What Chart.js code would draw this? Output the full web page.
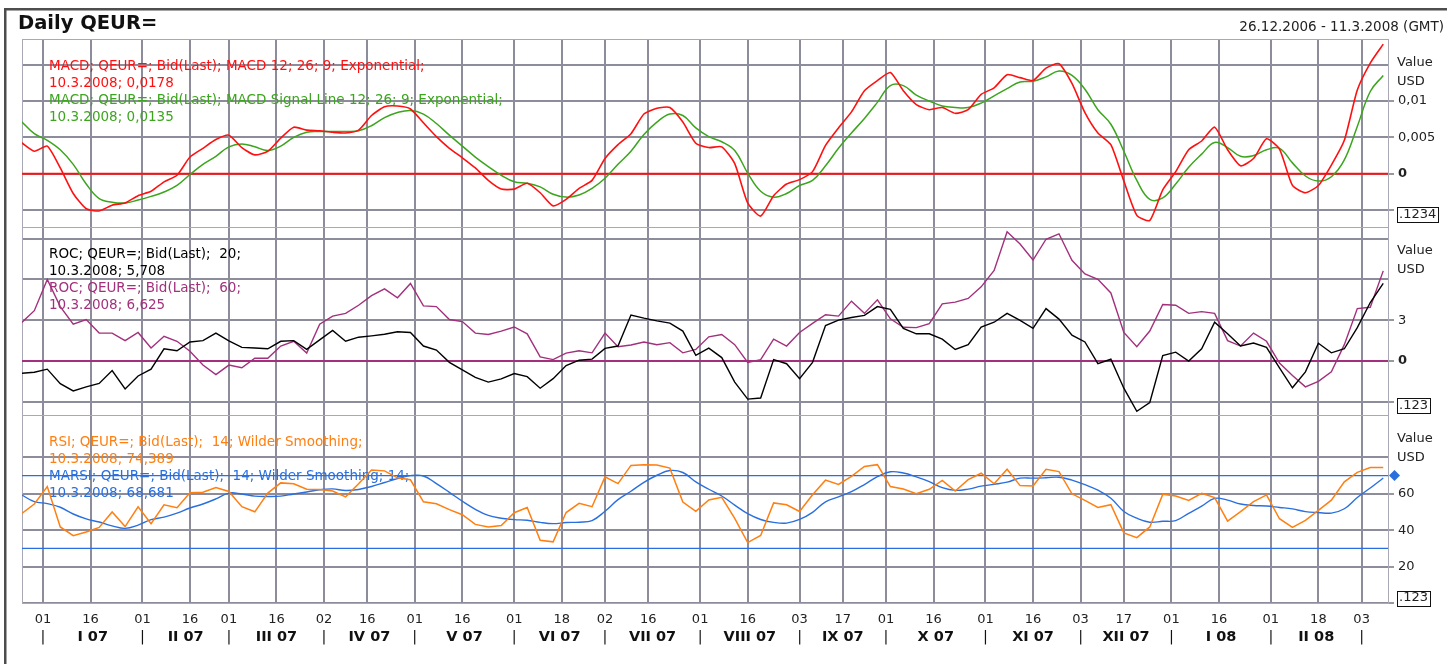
<!DOCTYPE html>
<html>
<head>
<meta charset="utf-8">
<title>Daily QEUR=</title>
<script src="https://cdn.jsdelivr.net/npm/chart.js@4.4.1/dist/chart.umd.min.js"></script>
<style>
  html, body { margin: 0; padding: 0; background: #fff; }
  #wrap { position: relative; width: 1447px; height: 664px; }
  canvas { display: block; }
</style>
</head>
<body>
<div id="wrap"><canvas id="qeurChart" width="1447" height="664"></canvas></div>
<script>
// Daily QEUR= : MACD, ROC y RSI en tres paneles con un eje X común
// Un valor cada 3 días hábiles, contando desde el 26.12.2006 (índice 0)
const firstDay = -1;
const step = 3;

const macd = [0.0043, 0.0031, 0.0038, 0.0008, -0.0027, -0.0048, -0.0051, -0.0043, -0.0040, -0.0030,
  -0.0024, -0.0011, -0.0002, 0.0023, 0.0035, 0.0047, 0.0053, 0.0036, 0.0026, 0.0031,
  0.0049, 0.0064, 0.0060, 0.0059, 0.0057, 0.0056, 0.0060, 0.0080, 0.0092, 0.0093,
  0.0089, 0.0070, 0.0051, 0.0035, 0.0022, 0.0008, -0.0009, -0.0021, -0.0021, -0.0013,
  -0.0026, -0.0044, -0.0035, -0.0020, -0.0009, 0.0021, 0.0040, 0.0055, 0.0082, 0.0090,
  0.0091, 0.0071, 0.0042, 0.0036, 0.0037, 0.0014, -0.0040, -0.0058, -0.0030, -0.0014,
  -0.0008, 0.0003, 0.0039, 0.0063, 0.0085, 0.0114, 0.0128, 0.0139, 0.0114, 0.0095,
  0.0088, 0.0091, 0.0083, 0.0088, 0.0109, 0.0118, 0.0136, 0.0132, 0.0128, 0.0145,
  0.0151, 0.0124, 0.0084, 0.0056, 0.0040, -0.0010, -0.0057, -0.0064, -0.0022, 0.0003,
  0.0033, 0.0045, 0.0064, 0.0033, 0.0011, 0.0021, 0.0048, 0.0034, -0.0016, -0.0026,
  -0.0016, 0.0012, 0.0046, 0.0115, 0.0152, 0.0178];

const macdSignal = [0.0072, 0.0055, 0.0046, 0.0033, 0.0013, -0.0014, -0.0034, -0.0039, -0.0040, -0.0036,
  -0.0031, -0.0025, -0.0016, -0.0001, 0.0013, 0.0024, 0.0037, 0.0041, 0.0037, 0.0032,
  0.0038, 0.0050, 0.0057, 0.0058, 0.0058, 0.0058, 0.0059, 0.0066, 0.0077, 0.0084,
  0.0087, 0.0082, 0.0069, 0.0053, 0.0038, 0.0023, 0.0010, -0.0002, -0.0011, -0.0013,
  -0.0018, -0.0028, -0.0032, -0.0029, -0.0020, -0.0006, 0.0013, 0.0031, 0.0054, 0.0071,
  0.0082, 0.0080, 0.0063, 0.0051, 0.0044, 0.0032, 0.0001, -0.0024, -0.0032, -0.0027,
  -0.0016, -0.0009, 0.0011, 0.0035, 0.0056, 0.0076, 0.0098, 0.0121, 0.0121, 0.0108,
  0.0100, 0.0093, 0.0091, 0.0091, 0.0097, 0.0107, 0.0117, 0.0126, 0.0127, 0.0133,
  0.0141, 0.0135, 0.0116, 0.0088, 0.0068, 0.0031, -0.0009, -0.0035, -0.0033, -0.0014,
  0.0009, 0.0027, 0.0043, 0.0036, 0.0024, 0.0025, 0.0033, 0.0035, 0.0015, -0.0003,
  -0.0010, -0.0004, 0.0019, 0.0065, 0.0113, 0.0135];

const roc20 = [-0.9, -0.83, -0.6, -1.67, -2.2, -1.9, -1.65, -0.7, -2.05, -1.1,
  -0.6, 0.9, 0.75, 1.4, 1.5, 2.05, 1.48, 1.0, 0.95, 0.9,
  1.45, 1.5, 0.85, 1.55, 2.25, 1.45, 1.75, 1.85, 1.97, 2.15,
  2.1, 1.1, 0.8, -0.1, -0.65, -1.2, -1.55, -1.32, -0.92, -1.15,
  -2.0, -1.3, -0.34, 0.06, 0.14, 0.93, 1.1, 3.38, 3.15, 2.95,
  2.78, 2.2, 0.42, 0.95, 0.25, -1.55, -2.8, -2.72, 0.1, -0.2,
  -1.3, -0.1, 2.6, 3.0, 3.2, 3.35, 4.0, 3.8, 2.4, 2.0,
  2.0, 1.6, 0.85, 1.2, 2.5, 2.85, 3.5, 2.98, 2.4, 3.85,
  3.08, 1.9, 1.4, -0.2, 0.13, -2.0, -3.7, -3.05, 0.4, 0.65,
  0.0, 0.9, 2.85, 2.0, 1.1, 1.32, 1.0, -0.5, -1.97, -0.8,
  1.3, 0.6, 0.9, 2.45, 4.3, 5.708];

const roc60 = [2.8, 3.7, 6.0, 4.0, 2.7, 3.05, 2.05, 2.05, 1.5, 2.1,
  0.96, 1.82, 1.45, 0.72, -0.3, -1.0, -0.3, -0.5, 0.2, 0.2,
  1.1, 1.45, 0.58, 2.7, 3.3, 3.5, 4.1, 4.8, 5.3, 4.65,
  5.7, 4.05, 4.0, 3.05, 2.9, 2.05, 1.95, 2.2, 2.5, 2.0,
  0.3, 0.1, 0.58, 0.75, 0.6, 2.05, 1.05, 1.18, 1.4, 1.2,
  1.35, 0.6, 0.85, 1.78, 1.95, 1.2, -0.1, 0.1, 1.6, 1.1,
  2.1, 2.77, 3.4, 3.3, 4.4, 3.5, 4.5, 3.1, 2.48, 2.45,
  2.75, 4.2, 4.33, 4.6, 5.45, 6.65, 9.5, 8.6, 7.42, 8.95,
  9.35, 7.4, 6.4, 6.0, 5.0, 2.1, 1.05, 2.2, 4.15, 4.1,
  3.5, 3.63, 3.5, 1.5, 1.1, 2.05, 1.45, -0.15, -1.06, -1.9,
  -1.5, -0.8, 1.2, 3.85, 3.95, 6.625];

const rsi = [49, 54.4, 64, 41.8, 37, 39, 41.5, 50, 42, 52.8,
  43.6, 54, 52.4, 60.6, 60.9, 63.5, 61.3, 52.9, 50.1, 60.4,
  66, 65.5, 62.5, 62.4, 61.5, 58.3, 65.5, 73.1, 72.6, 68.8,
  67.7, 55.6, 54.5, 51.3, 48.5, 43.2, 41.7, 42.6, 49.6, 52.5,
  34.5, 33.6, 49.7, 54.8, 52.9, 69.3, 65.6, 75.6, 76, 75.8,
  74.1, 55.5, 50.4, 56.6, 58.1, 46.5, 33.2, 37.1, 55, 54,
  50.3, 59.5, 67.5, 65.2, 69.6, 75, 76, 64, 62.6, 60.1,
  62.5, 67.4, 61.5, 67.8, 71.3, 65.5, 73.5, 64.5, 64.3, 73.5,
  72.2, 60, 56.4, 52.5, 54, 38.5, 35.9, 41.8, 59.7, 58.8,
  56.4, 60.3, 57.9, 45, 50.2, 55.7, 59.4, 46.3, 41.5, 45.4,
  50.9, 56.5, 66.6, 71.8, 74.4, 74.389];

const marsi = [59.5, 55.7, 54.6, 52.6, 48.9, 46.2, 44.5, 42.4, 41, 42.8,
  45.8, 47.2, 49.4, 52.2, 54.4, 57.2, 60.4, 59.9, 58.7, 58.5,
  58.7, 59.9, 61, 62.2, 62.7, 61.8, 62.4, 64, 66.2, 68.3,
  70, 69.8, 65.6, 60.8, 55.9, 51.5, 48.1, 46.6, 45.8, 45.5,
  44.3, 43.6, 44.2, 44.4, 45.3, 50.4, 56.8, 61.4, 66.3, 70.2,
  72.8, 71.7, 66.6, 62.5, 58.8, 53.8, 49.1, 45.9, 44.3, 43.9,
  45.9, 49.8, 55.6, 58.3, 61.2, 65.1, 69.4, 72.1, 71.4, 69.3,
  66.7, 63.4, 61.9, 62.6, 64.2, 65.2, 66.4, 68.6, 68.6, 68.8,
  69.1, 67.5, 65, 62, 57.6, 50.3, 46.6, 44.4, 44.9, 45.3,
  49.3, 53.2, 57.5, 56.5, 54.4, 53.6, 53.3, 52.5, 51.7, 50.2,
  49.7, 49.4, 51.8, 58, 63.2, 68.681];

// Eje X: día hábil de cada marca y su etiqueta
const tickDays = [4, 15, 27, 38, 47, 58, 69, 79, 90, 101, 113, 124, 134, 144, 156,
  167, 179, 189, 199, 210, 222, 233, 244, 254, 265, 276, 288, 299, 309];
const tickLabels = ['01', '16', '01', '16', '01', '16', '02', '16', '01', '16', '01', '18', '02', '16', '01',
  '16', '03', '17', '01', '16', '01', '16', '03', '17', '01', '16', '01', '18', '03'];
const monthStarts = [4, 27, 47, 69, 90, 113, 134, 156, 179, 199, 222, 244, 265, 288, 309];
const monthLabels = ['I 07', 'II 07', 'III 07', 'IV 07', 'V 07', 'VI 07', 'VII 07', 'VIII 07',
  'IX 07', 'X 07', 'XI 07', 'XII 07', 'I 08', 'II 08'];

// Ejes Y (uno por panel)
const macdTicks = [-0.005, 0, 0.005, 0.01, 0.015];
const macdTickLabels = ['', '0', '0,005', '0,01', ''];
const rocTicks = [-3, 0, 3, 6, 9];
const rocTickLabels = ['', '0', '3', '', ''];
const rsiTicks = [0, 20, 40, 60, 80];
const rsiTickLabels = ['', '20', '40', '60', ''];
const rsiBands = [30, 70];

const xMin = -0.85, xMax = 315.1;
const font = '"DejaVu Sans", sans-serif';
const gridColor = '#8d8c9b';
const frameColor = '#a9a9b5';

const red = '#ff1010', green = '#3ca51e', purple = '#a2307c', orange = '#ff7f10', blue = '#2a6fdf';

Chart.defaults.font.family = font;

const toPoints = arr => arr.map((v, i) => ({ x: firstDay + i * step, y: v }));
const hLine = v => [{ x: xMin, y: v }, { x: xMax, y: v }];
const last = arr => arr[arr.length - 1];
const fmt = (v, d) => v.toFixed(d).replace('.', ',');

// Texto de leyenda de cada panel
const panelLegends = [
  { axis: 'y1', lines: [
    ['MACD; QEUR=; Bid(Last); MACD 12; 26; 9; Exponential;', red],
    ['10.3.2008; ' + fmt(last(macd), 4), red],
    ['MACD; QEUR=; Bid(Last); MACD Signal Line 12; 26; 9; Exponential;', green],
    ['10.3.2008; ' + fmt(last(macdSignal), 4), green]] },
  { axis: 'y2', lines: [
    ['ROC; QEUR=; Bid(Last);  20;', '#000'],
    ['10.3.2008; ' + fmt(last(roc20), 3), '#000'],
    ['ROC; QEUR=; Bid(Last);  60;', purple],
    ['10.3.2008; ' + fmt(last(roc60), 3), purple]] },
  { axis: 'y3', lines: [
    ['RSI; QEUR=; Bid(Last);  14; Wilder Smoothing;', orange],
    ['10.3.2008; ' + fmt(last(rsi), 3), orange],
    ['MARSI; QEUR=; Bid(Last);  14; Wilder Smoothing; 14;', blue],
    ['10.3.2008; ' + fmt(last(marsi), 3), blue]] }
];
const boxLabels = { y1: '.1234', y2: '.123', y3: '.123' };

const monthTicks = monthStarts.map(v => ({ value: v, label: '|' })).concat(
  monthLabels.map((l, k) => ({ value: (monthStarts[k] + monthStarts[k + 1]) / 2, label: l })));

function yAxis(ticksArr, labelsArr, min, max) {
  return {
    type: 'linear', position: 'right', stack: 'panels', stackWeight: 1,
    min: min, max: max, bounds: 'data',
    afterFit: s => { s.width = 59; },
    afterBuildTicks: s => { s.ticks = ticksArr.map(v => ({ value: v })); },
    grid: {
      color: gridColor, lineWidth: 2, drawTicks: true, tickLength: 6, tickWidth: 1,
      tickColor: ctx => (ctx.index === 0 || labelsArr[ctx.index]) ? '#333' : 'rgba(0,0,0,0)'
    },
    border: { display: false },
    ticks: {
      padding: 4, color: '#222', autoSkip: false,
      font: ctx => ({ family: font, size: 13, weight: (ctx.tick && ctx.tick.value === 0) ? 'bold' : 'normal' }),
      callback: (v, i) => labelsArr[i]
    }
  };
}

const decorPlugin = {
  id: 'decor',
  beforeDatasetsDraw(chart) {
    const { ctx, chartArea, scales } = chart;
    ctx.save();
    // marco claro de cada panel
    ctx.strokeStyle = frameColor;
    ctx.lineWidth = 1;
    ['y1', 'y2', 'y3'].forEach(id => {
      const s = scales[id];
      ctx.strokeRect(chartArea.left + 0.5, s.top + 0.5, chartArea.width, s.height);
    });
    // leyendas dentro de los paneles
    ctx.font = '13.5px ' + font;
    ctx.textBaseline = 'middle';
    ctx.textAlign = 'left';
    panelLegends.forEach(p => {
      const s = scales[p.axis];
      p.lines.forEach((ln, k) => {
        ctx.fillStyle = ln[1];
        ctx.fillText(ln[0], chartArea.left + 27, s.top + 27 + k * 17);
      });
    });
    ctx.restore();
  },
  afterDraw(chart) {
    const { ctx, chartArea, scales, width, height } = chart;
    ctx.save();
    // marco exterior
    ctx.fillStyle = '#4d4d4d';
    ctx.fillRect(4, 8, width - 4, 2.5);
    ctx.fillRect(4, 8, 2.5, height - 8);
    // cabecera
    ctx.fillStyle = '#111';
    ctx.textBaseline = 'middle';
    ctx.font = 'bold 19.5px ' + font;
    ctx.textAlign = 'left';
    ctx.fillText('Daily QEUR=', 18, 24);
    ctx.font = '13.5px ' + font;
    ctx.textAlign = 'right';
    ctx.fillStyle = '#222';
    ctx.fillText('26.12.2006 - 11.3.2008 (GMT)', width - 3, 27);
    // textos del eje derecho
    ctx.textAlign = 'left';
    ctx.font = '13px ' + font;
    ['y1', 'y2', 'y3'].forEach(id => {
      const s = scales[id];
      const xl = chartArea.right + 9;
      ctx.fillStyle = '#222';
      ctx.fillText('Value', xl, s.top + 24);
      ctx.fillText('USD', xl, s.top + 43);
      // recuadro del último valor
      const ty = s.getPixelForValue(s.ticks[0].value);
      const cy = Math.min(ty + 4, s.bottom - 5);
      const txt = boxLabels[id];
      const w = ctx.measureText(txt).width + 4;
      ctx.strokeStyle = '#111';
      ctx.lineWidth = 1;
      ctx.strokeRect(Math.round(xl) + 0.5, Math.round(cy - 7.5) + 0.5, Math.round(w), 15);
      ctx.fillText(txt, xl + 2, cy);
    });
    // rombo del nivel 70 del RSI
    const yd = scales.y3.getPixelForValue(rsiBands[1]);
    const xd = chartArea.right + 6.5;
    ctx.fillStyle = blue;
    ctx.beginPath();
    ctx.moveTo(xd, yd - 5.5);
    ctx.lineTo(xd + 5.5, yd);
    ctx.lineTo(xd, yd + 5.5);
    ctx.lineTo(xd - 5.5, yd);
    ctx.closePath();
    ctx.fill();
    ctx.restore();
  }
};

const lineDs = (data, color, axis, width, tension) => ({
  data: data, yAxisID: axis, borderColor: color, borderWidth: width,
  tension: tension, pointRadius: 0, fill: false
});

new Chart(document.getElementById('qeurChart').getContext('2d'), {
  type: 'line',
  data: {
    datasets: [
      lineDs(toPoints(macd), red, 'y1', 1.6, 0.2),
      lineDs(toPoints(macdSignal), green, 'y1', 1.5, 0.4),
      lineDs(toPoints(roc20), '#000', 'y2', 1.4, 0),
      lineDs(toPoints(roc60), purple, 'y2', 1.4, 0),
      lineDs(toPoints(rsi), orange, 'y3', 1.5, 0),
      lineDs(toPoints(marsi), blue, 'y3', 1.4, 0.4),
      lineDs(hLine(0), red, 'y1', 2, 0),
      lineDs(hLine(0), purple, 'y2', 2, 0),
      lineDs(hLine(rsiBands[1]), blue, 'y3', 1.4, 0),
      lineDs(hLine(rsiBands[0]), blue, 'y3', 1.4, 0)
    ]
  },
  options: {
    responsive: false,
    maintainAspectRatio: false,
    animation: false,
    events: [],
    layout: { padding: { left: 22, top: 39, right: 0, bottom: 17 } },
    plugins: { legend: { display: false }, tooltip: { enabled: false } },
    scales: {
      y1: yAxis(macdTicks, macdTickLabels, -0.0073, 0.0185),
      y2: yAxis(rocTicks, rocTickLabels, -3.97, 9.85),
      y3: yAxis(rsiTicks, rsiTickLabels, 0, 103.3),
      x: {
        type: 'linear', position: 'bottom', min: xMin, max: xMax, bounds: 'data',
        afterFit: s => { s.height = 26; },
        afterBuildTicks: s => { s.ticks = tickDays.map(v => ({ value: v })); },
        grid: { color: gridColor, lineWidth: 2, drawTicks: false },
        border: { display: false },
        ticks: {
          autoSkip: false, maxRotation: 0, padding: 9, color: '#222',
          font: { family: font, size: 13 },
          callback: (v, i) => tickLabels[i]
        }
      },
      xm: {
        type: 'linear', position: 'bottom', min: xMin, max: xMax, bounds: 'data',
        afterFit: s => { s.height = 18; },
        afterBuildTicks: s => { s.ticks = monthTicks.map(t => ({ value: t.value })); },
        grid: { display: false, drawTicks: false },
        border: { display: false },
        ticks: {
          autoSkip: false, maxRotation: 0, padding: 0, color: '#111',
          font: ctx => ({ family: font, size: 14.5, weight: ctx.index < monthStarts.length ? 'normal' : 'bold' }),
          callback: (v, i) => monthTicks[i].label
        }
      }
    }
  },
  plugins: [decorPlugin]
});
</script>
</body>
</html>
